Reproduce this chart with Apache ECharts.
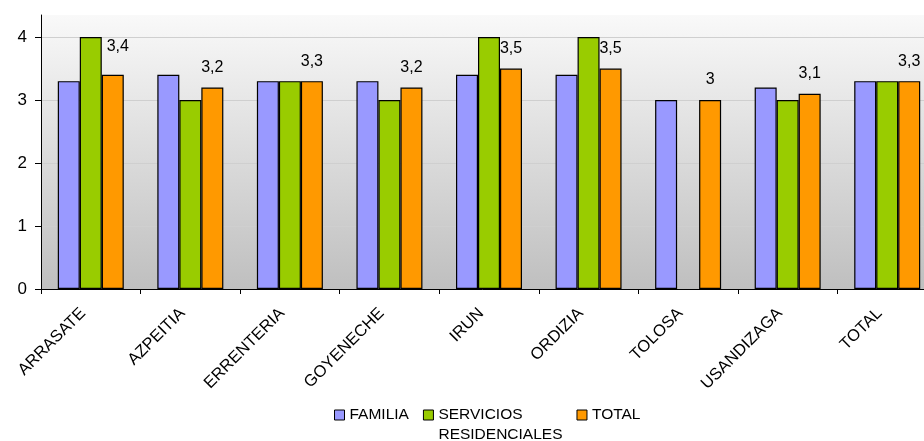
<!DOCTYPE html>
<html>
<head>
<meta charset="utf-8">
<script src="https://cdn.jsdelivr.net/npm/echarts@6/dist/echarts.min.js"></script>
<style>
html,body{margin:0;padding:0;background:#fff;}
#chart{width:924px;height:441px;}
</style>
</head>
<body>
<div id="chart"></div>
<script>
var categories = ['ARRASATE','AZPEITIA','ERRENTERIA','GOYENECHE','IRUN','ORDIZIA','TOLOSA','USANDIZAGA','TOTAL'];
var seriesNames = ['FAMILIA','SERVICIOS\nRESIDENCIALES','TOTAL'];
var familia = [3.3, 3.4, 3.3, 3.3, 3.4, 3.4, 3.0, 3.2, 3.3];
var servicios = [4.0, 3.0, 3.3, 3.0, 4.0, 4.0, null, 3.0, 3.3];
var total = [3.4, 3.2, 3.3, 3.2, 3.5, 3.5, 3.0, 3.1, 3.3];
var yTicks = [0, 1, 2, 3, 4];

var FONT = '"Liberation Sans", Arial, sans-serif';
var chart = echarts.init(document.getElementById('chart'), null, {renderer: 'canvas'});

function barSeries(name, values, color, withLabel) {
  var s = {
    name: name,
    type: 'bar',
    barWidth: 22,
    barGap: '0%',
    barCategoryGap: '31%',
    itemStyle: {color: color, borderColor: '#000', borderWidth: 1.2},
    emphasis: {disabled: true},
    data: values.map(function (v, i) {
      if (withLabel && i === 0) {
        return {value: v, label: {offset: [5, -8]}};
      }
      return v;
    })
  };
  if (withLabel) {
    s.label = {
      show: true,
      position: 'top',
      distance: 12,
      color: '#000',
      fontFamily: FONT,
      fontSize: 16,
      formatter: function (p) { return String(p.value).replace('.', ','); }
    };
  }
  return s;
}

var option = {
  animation: false,
  backgroundColor: '#fff',
  textStyle: {fontFamily: FONT},
  grid: {
    left: 41, right: -13, top: 15, bottom: 152,
    outerBoundsMode: 'none',
    containLabel: false,
    show: true,
    borderWidth: 0,
    backgroundColor: new echarts.graphic.LinearGradient(0, 0, 0, 1, [
      {offset: 0, color: '#f9f9f9'},
      {offset: 1, color: '#bfbfbf'}
    ])
  },
  legend: {
    left: 334,
    top: 385,
    padding: 0,
    itemWidth: 10,
    itemHeight: 10,
    itemGap: 14,
    icon: 'rect',
    textStyle: {fontFamily: FONT, fontSize: 15.5, color: '#000', lineHeight: 20},
    itemStyle: {borderColor: '#000', borderWidth: 1},
    formatter: function (name) {
      return name === seriesNames[1] ? '\n' + name : name;
    },
    data: seriesNames.slice()
  },
  xAxis: {
    type: 'category',
    data: categories,
    boundaryGap: true,
    axisLine: {show: true, lineStyle: {color: '#000', width: 1}},
    axisTick: {show: true, alignWithLabel: false, length: 5, lineStyle: {color: '#000'}},
    axisLabel: {
      rotate: 45,
      interval: 0,
      margin: 14,
      padding: [0, 11, 0, 0],
      color: '#000',
      fontFamily: FONT,
      fontSize: 16.5
    },
    splitLine: {show: false}
  },
  yAxis: {
    type: 'value',
    min: 0,
    max: 4.35,
    interval: 1,
    axisLine: {show: true, lineStyle: {color: '#000', width: 1}},
    axisTick: {show: true, length: 6, customValues: yTicks, lineStyle: {color: '#000'}},
    axisLabel: {
      customValues: yTicks,
      color: '#000',
      fontFamily: FONT,
      fontSize: 17,
      margin: 14
    },
    splitLine: {
      show: true,
      lineStyle: {color: ['#cfcfcf', '#cfcfcf', '#cfcfcf', '#cfcfcf', '#cfcfcf', 'rgba(0,0,0,0)'], width: 1}
    }
  },
  series: [
    barSeries(seriesNames[0], familia, '#9999ff', false),
    barSeries(seriesNames[1], servicios, '#99cc00', false),
    barSeries(seriesNames[2], total, '#ff9900', true)
  ]
};
chart.setOption(option);
</script>
</body>
</html>
